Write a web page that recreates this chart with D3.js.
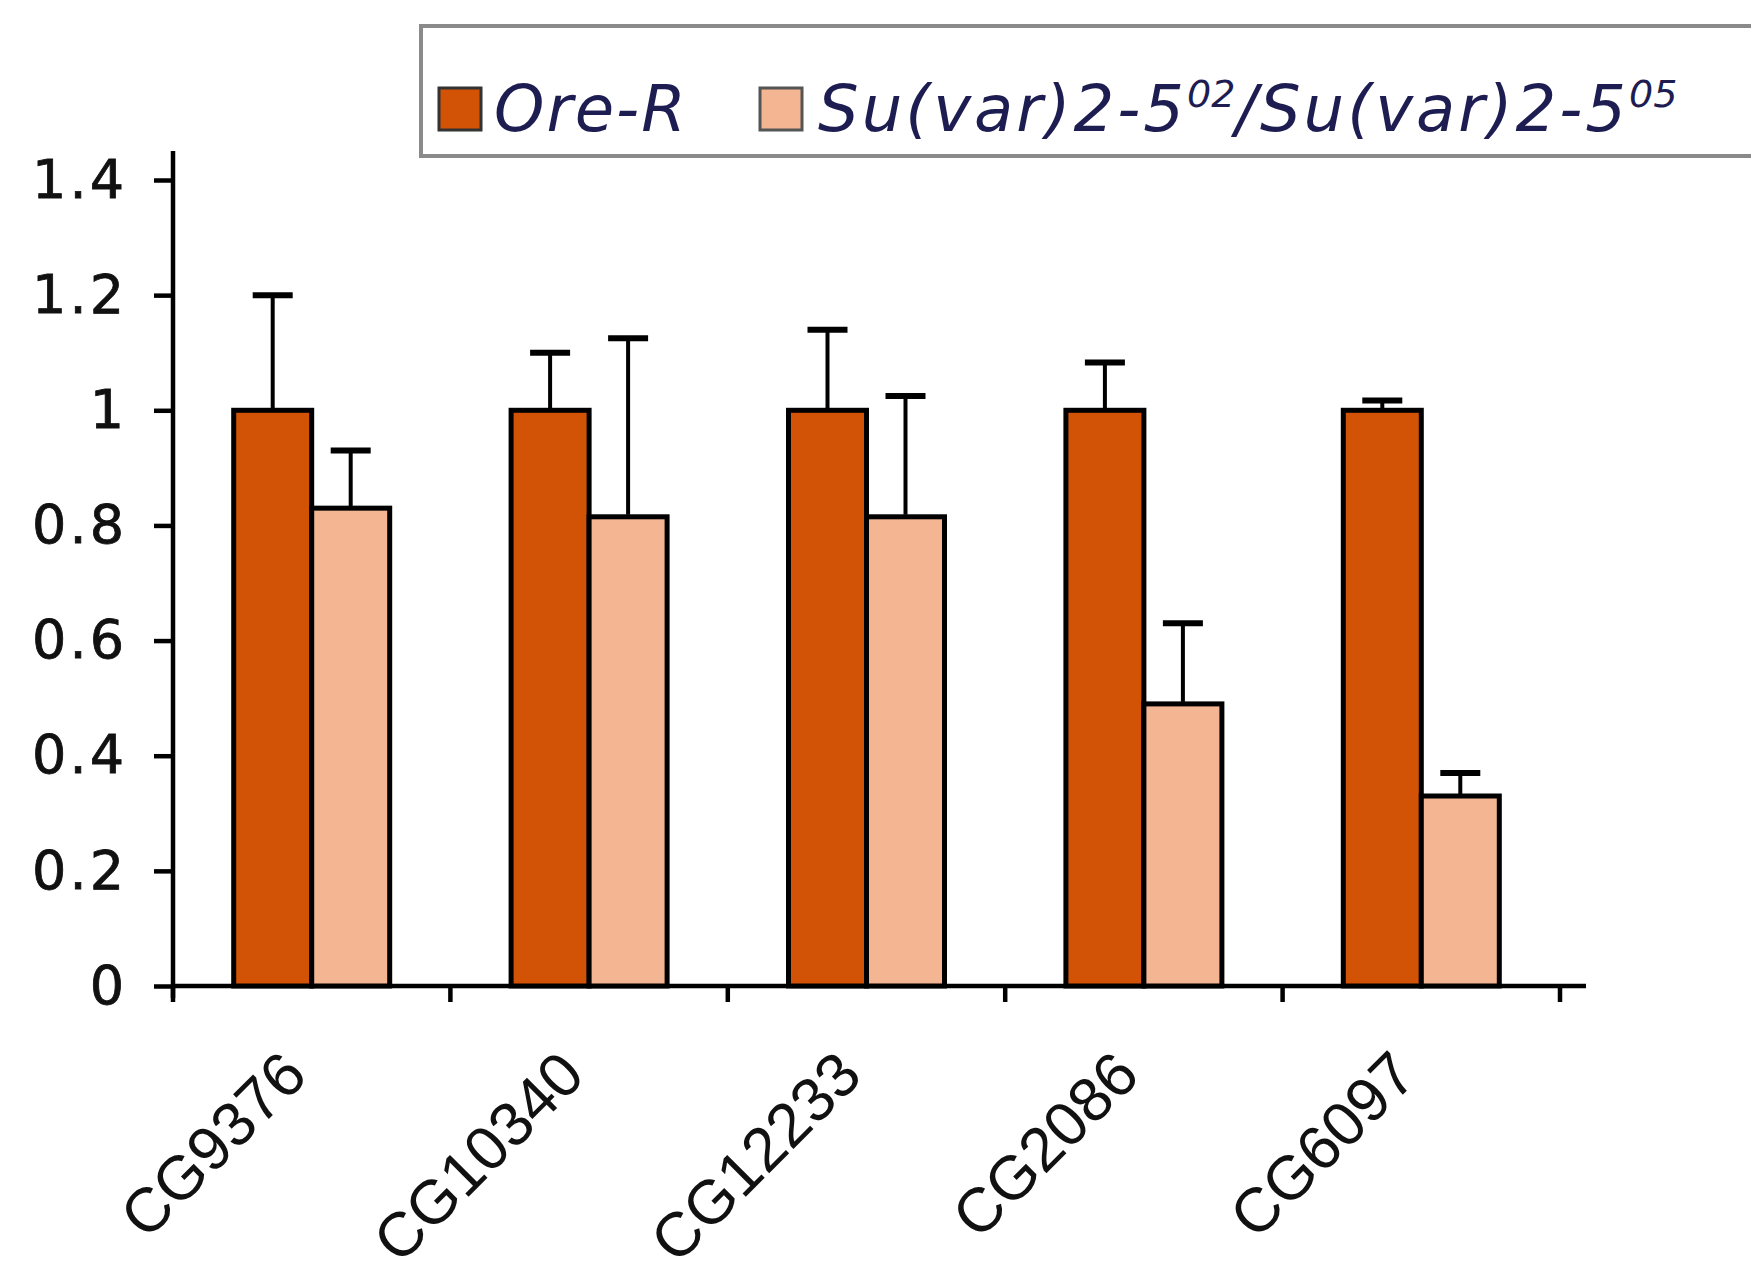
<!DOCTYPE html>
<html>
<head>
<meta charset="utf-8">
<script src="https://cdn.jsdelivr.net/npm/d3@7"></script>
<style>
  body { margin: 0; background: #fff; }
  svg { display: block; }
</style>
</head>
<body>
<svg width="1751" height="1277"></svg>
<script>
// data
var genes = ["CG9376", "CG10340", "CG12233", "CG2086", "CG6097"];
var oreR = [1, 1, 1, 1, 1];
var oreRErr = [0.20, 0.10, 0.14, 0.083, 0.017];
var suvar = [0.83, 0.815, 0.815, 0.49, 0.33];
var suvarErr = [0.10, 0.31, 0.21, 0.14, 0.04];
var yTicks = [0, 0.2, 0.4, 0.6, 0.8, 1, 1.2, 1.4];

var darkColor = "#d35306";
var lightColor = "#f3b592";

var svg = d3.select("svg");

var x0 = 173, x1 = 1560, yBottom = 986, yTop = 180;

var x = d3.scaleBand()
  .domain(genes)
  .range([x0, x1])
  .padding(0);

var y = d3.scaleLinear()
  .domain([0, 1.4])
  .range([yBottom, yTop]);

var barW = 78;

// y axis
var yAxis = svg.append("g")
  .attr("transform", "translate(" + x0 + ",0)")
  .call(d3.axisLeft(y).tickValues(yTicks).tickSize(19).tickPadding(27)
    .tickFormat(function (d) { return d3.format("")(d); }));
yAxis.select(".domain").remove();
yAxis.append("line")
  .attr("x1", 0).attr("x2", 0)
  .attr("y1", 151).attr("y2", yBottom + 12)
  .attr("stroke", "#000").attr("stroke-width", 4.5);
yAxis.selectAll(".tick line").attr("stroke-width", 4.5);
yAxis.selectAll("text")
  .attr("font-family", "DejaVu Sans, Verdana, sans-serif")
  .attr("font-size", 54)
  .attr("letter-spacing", 3)
  .attr("stroke", "#111")
  .attr("stroke-width", 0.8)
  .attr("fill", "#111");

// x axis
var xAxis = svg.append("g")
  .attr("transform", "translate(0," + yBottom + ")")
  .call(d3.axisBottom(x).tickSize(0).tickFormat(""));
xAxis.select(".domain").remove();
xAxis.append("line")
  .attr("x1", x0).attr("x2", 1586)
  .attr("y1", 0).attr("y2", 0)
  .attr("stroke", "#000").attr("stroke-width", 4.5);

// category boundary ticks
var bounds = genes.map(function (g) { return x(g); }).concat([x1]);
xAxis.selectAll(".bound")
  .data(bounds)
  .enter().append("line")
  .attr("class", "bound")
  .attr("x1", function (d) { return d; })
  .attr("x2", function (d) { return d; })
  .attr("y1", 0).attr("y2", 16)
  .attr("stroke", "#000").attr("stroke-width", 4.5);

// x labels, rotated
svg.append("g")
  .selectAll("text")
  .data(genes)
  .enter().append("text")
  .attr("transform", function (d) {
    return "translate(" + (x(d) + x.bandwidth() / 2 - 2) + "," + (yBottom + 92) + ") rotate(-45)";
  })
  .attr("text-anchor", "end")
  .attr("font-family", "Liberation Sans, Arial, sans-serif")
  .attr("font-size", 62)
  .attr("fill", "#111")
  .text(function (d) { return d; });

function drawSeries(vals, errs, color, offset) {
  var bars = svg.append("g");
  bars.selectAll("rect")
    .data(genes)
    .enter().append("rect")
    .attr("x", function (d) { return x(d) + x.bandwidth() / 2 + offset; })
    .attr("y", function (d, i) { return y(vals[i]); })
    .attr("width", barW)
    .attr("height", function (d, i) { return yBottom - y(vals[i]); })
    .attr("fill", color)
    .attr("stroke", "#000")
    .attr("stroke-width", 5);

  var eb = svg.append("g");
  eb.selectAll("line.v")
    .data(genes)
    .enter().append("line")
    .attr("class", "v")
    .attr("x1", function (d) { return x(d) + x.bandwidth() / 2 + offset + barW / 2; })
    .attr("x2", function (d) { return x(d) + x.bandwidth() / 2 + offset + barW / 2; })
    .attr("y1", function (d, i) { return y(vals[i]) - 2; })
    .attr("y2", function (d, i) { return y(vals[i] + errs[i]); })
    .attr("stroke", "#000").attr("stroke-width", 4);
  eb.selectAll("line.c")
    .data(genes)
    .enter().append("line")
    .attr("class", "c")
    .attr("x1", function (d) { return x(d) + x.bandwidth() / 2 + offset + barW / 2 - 20; })
    .attr("x2", function (d) { return x(d) + x.bandwidth() / 2 + offset + barW / 2 + 20; })
    .attr("y1", function (d, i) { return y(vals[i] + errs[i]); })
    .attr("y2", function (d, i) { return y(vals[i] + errs[i]); })
    .attr("stroke", "#000").attr("stroke-width", 6);
}

drawSeries(oreR, oreRErr, darkColor, -barW);
drawSeries(suvar, suvarErr, lightColor, 0);

// legend
var legend = svg.append("g");
legend.append("rect")
  .attr("x", 421).attr("y", 26)
  .attr("width", 1400).attr("height", 130)
  .attr("fill", "#fff")
  .attr("stroke", "#8a8a8a")
  .attr("stroke-width", 4);
legend.append("rect")
  .attr("x", 439).attr("y", 88)
  .attr("width", 42).attr("height", 42)
  .attr("fill", darkColor).attr("stroke", "#333").attr("stroke-width", 3);
legend.append("rect")
  .attr("x", 760).attr("y", 88)
  .attr("width", 42).attr("height", 42)
  .attr("fill", lightColor).attr("stroke", "#555").attr("stroke-width", 3);

var legFont = "DejaVu Sans, Verdana, sans-serif";
legend.append("text")
  .attr("x", 494).attr("y", 131)
  .attr("font-family", legFont)
  .attr("font-style", "italic")
  .attr("font-size", 64)
  .attr("letter-spacing", 2)
  .attr("fill", "#1d1d52")
  .text("Ore-R");

var t2 = legend.append("text")
  .attr("x", 818).attr("y", 131)
  .attr("font-family", legFont)
  .attr("font-style", "italic")
  .attr("font-size", 64)
  .attr("letter-spacing", 3)
  .attr("fill", "#1d1d52");
t2.append("tspan").text("Su(var)2-5");
t2.append("tspan").attr("font-size", 38).attr("dy", -24).attr("letter-spacing", 0).text("02");
t2.append("tspan").attr("dy", 24).text("/Su(var)2-5");
t2.append("tspan").attr("font-size", 38).attr("dy", -24).attr("letter-spacing", 0).text("05");
</script>
</body>
</html>
